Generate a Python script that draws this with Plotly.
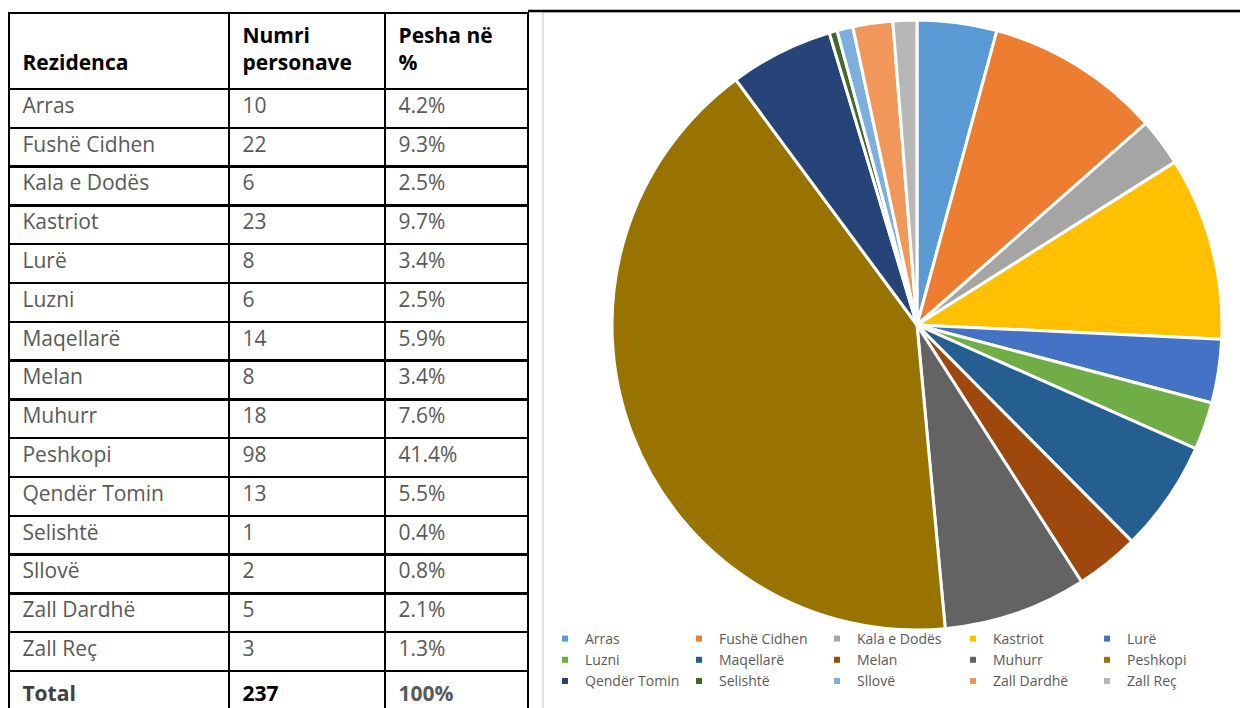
import plotly.graph_objects as go

# The page body adds an 8px margin, so the figure is sized to the visible area
OFF = 8
W, H = 1248 - OFF, 708 - OFF


def fx(px):
    return (px - OFF) / W


def fy(py):
    return 1 - (py - OFF) / H


# ---- data ----
residences = ["Arras", "Fushë Cidhen", "Kala e Dodës", "Kastriot", "Lurë", "Luzni",
              "Maqellarë", "Melan", "Muhurr", "Peshkopi", "Qendër Tomin", "Selishtë",
              "Sllovë", "Zall Dardhë", "Zall Reç"]
counts = [10, 22, 6, 23, 8, 6, 14, 8, 18, 98, 13, 1, 2, 5, 3]
shares = ["4.2%", "9.3%", "2.5%", "9.7%", "3.4%", "2.5%", "5.9%", "3.4%", "7.6%",
          "41.4%", "5.5%", "0.4%", "0.8%", "2.1%", "1.3%"]
total_label = "Total"
total_count = 237
total_share = "100%"
headers = ["Rezidenca", "Numri<br>personave", "Pesha në<br>%"]
slice_colors = ["#5B9BD5", "#ED7D31", "#A5A5A5", "#FFC000", "#4472C4", "#70AD47",
                "#255E91", "#9E480E", "#636363", "#997300", "#264478", "#43682B",
                "#7CAFDD", "#F1975A", "#B7B7B7"]

FONT = "Open Sans"
GRAY = "#595959"
N_LEGEND_COLS = 5
LEGEND_TEXT_X = [585, 719, 857, 993, 1127]   # page px where each legend column's text starts
PAD = "\u00a0"

fig = go.Figure()

# ---- table ----
col1 = [PAD + r for r in residences] + ["<b>%s%s</b>" % (PAD, total_label)]
col2 = [PAD + str(c) for c in counts] + ["<b>%s%d</b>" % (PAD, total_count)]
col3 = [PAD + s for s in shares] + ["<b>%s%s</b>" % (PAD, total_share)]
n = len(col1)
fig.add_trace(go.Table(
    domain=dict(x=[fx(9), fx(528)], y=[0, fy(13)]),
    columnwidth=[220, 156, 143],
    header=dict(
        values=["<b>%s <br>%s%s</b>" % (PAD, PAD, headers[0]),
                "<b>%s</b>" % (PAD + headers[1].replace("<br>", "<br>" + PAD)),
                "<b>%s</b>" % (PAD + headers[2].replace("<br>", "<br>" + PAD))],
        align="left",
        height=76,
        line=dict(color="black", width=2.5),
        fill=dict(color="white"),
        font=dict(family=FONT, size=21, color="black"),
    ),
    cells=dict(
        values=[col1, col2, col3],
        align="left",
        height=38.8,
        line=dict(color="black", width=2.5),
        fill=dict(color="white"),
        font=dict(family=FONT, size=21,
                  color=[[GRAY] * (n - 1) + ["#404040"],
                         [GRAY] * (n - 1) + ["black"],
                         [GRAY] * n]),
    ),
))

# ---- pie ----
fig.add_trace(go.Pie(
    labels=residences,
    values=counts,
    sort=False,
    direction="clockwise",
    rotation=0,
    textinfo="none",
    hoverinfo="label+value+percent",
    marker=dict(colors=slice_colors, line=dict(color="white", width=3)),
    domain=dict(x=[fx(612), fx(1222)], y=[fy(630), fy(20)]),
    showlegend=False,
))

# ---- legend entries (small square markers), one legend per column ----
for i, (name, col) in enumerate(zip(residences, slice_colors)):
    k = i % N_LEGEND_COLS
    fig.add_trace(go.Scatter(
        x=[None], y=[None], mode="markers", name=name,
        marker=dict(symbol="square", size=6, color=col),
        showlegend=True, hoverinfo="skip",
        legend="legend" if k == 0 else "legend%d" % (k + 1),
    ))

legend_common = dict(
    orientation="v", yanchor="top", xanchor="left",
    font=dict(family=FONT, size=14, color=GRAY),
    bgcolor="rgba(0,0,0,0)", itemsizing="trace", tracegroupgap=0,
)
legends = {}
for k in range(N_LEGEND_COLS):
    key = "legend" if k == 0 else "legend%d" % (k + 1)
    legends[key] = dict(legend_common, x=fx(LEGEND_TEXT_X[k] - 40), y=fy(623))

fig.update_layout(
    width=W, height=H,
    margin=dict(l=0, r=0, t=0, b=0),
    paper_bgcolor="white", plot_bgcolor="white",
    xaxis=dict(visible=False), yaxis=dict(visible=False),
    shapes=[
        dict(type="rect", xref="paper", yref="paper",
             x0=fx(543), x1=fx(1244), y0=-0.02, y1=fy(12),
             line=dict(color="#D9D9D9", width=1.5), layer="below"),
        dict(type="line", xref="paper", yref="paper",
             x0=fx(528), x1=1, y0=fy(11), y1=fy(11),
             line=dict(color="black", width=2.5)),
    ],
    **legends,
)

fig.write_html("out.html")
